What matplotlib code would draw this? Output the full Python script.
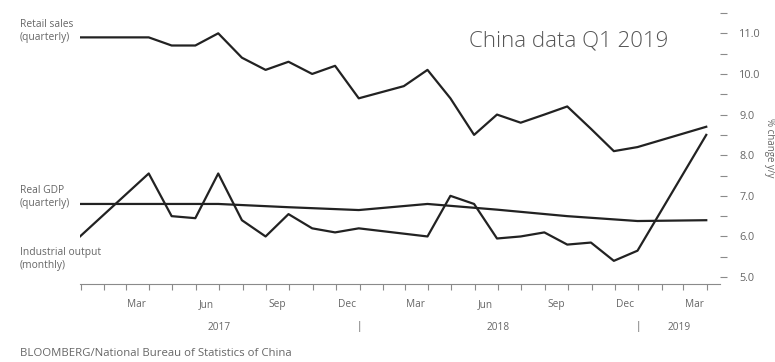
import matplotlib
matplotlib.use("Agg")
import matplotlib.pyplot as plt
import matplotlib.dates as mdates
import matplotlib.transforms as mtransforms
import pandas as pd

# retail sales, % y/y (points at month end)
retail_dates = ["2016-12-31", "2017-03-31", "2017-04-30", "2017-05-31", "2017-06-30",
                "2017-07-31", "2017-08-31", "2017-09-30", "2017-10-31", "2017-11-30",
                "2017-12-31", "2018-02-28", "2018-03-31", "2018-04-30", "2018-05-31",
                "2018-06-30", "2018-07-31", "2018-08-31", "2018-09-30", "2018-10-31",
                "2018-11-30", "2018-12-31", "2019-03-31"]
retail_vals = [10.9, 10.9, 10.7, 10.7, 11.0, 10.4, 10.1, 10.3, 10.0, 10.2, 9.4,
               9.7, 10.1, 9.4, 8.5, 9.0, 8.8, 9.0, 9.2, 8.65, 8.1, 8.2, 8.7]

# industrial output, % y/y
ip_dates = ["2016-12-31", "2017-03-31", "2017-04-30", "2017-05-31", "2017-06-30",
            "2017-07-31", "2017-08-31", "2017-09-30", "2017-10-31", "2017-11-30",
            "2017-12-31", "2018-03-31", "2018-04-30", "2018-05-31", "2018-06-30",
            "2018-07-31", "2018-08-31", "2018-09-30", "2018-10-31", "2018-11-30",
            "2018-12-31", "2019-03-31"]
ip_vals = [6.0, 7.55, 6.5, 6.45, 7.55, 6.4, 6.0, 6.55, 6.2, 6.1, 6.2,
           6.0, 7.0, 6.8, 5.95, 6.0, 6.1, 5.8, 5.85, 5.4, 5.65, 8.5]

# real GDP, % y/y (quarter end)
gdp_dates = ["2016-12-31", "2017-03-31", "2017-06-30", "2017-09-30", "2017-12-31",
             "2018-03-31", "2018-06-30", "2018-09-30", "2018-12-31", "2019-03-31"]
gdp_vals = [6.8, 6.8, 6.8, 6.72, 6.65, 6.8, 6.66, 6.5, 6.38, 6.4]

month_labels = ["Mar", "Jun", "Sep", "Dec", "Mar", "Jun", "Sep", "Dec", "Mar"]
month_label_dates = ["2017-03-15", "2017-06-15", "2017-09-15", "2017-12-15",
                     "2018-03-15", "2018-06-15", "2018-09-15", "2018-12-15",
                     "2019-03-15"]
years = ["2017", "2018", "2019"]
year_label_dates = ["2017-07-01", "2018-07-01", "2019-02-24"]
year_breaks = ["2018-01-01", "2019-01-01"]

grey = "#8a8a8a"
txt = "#666666"
plt.rcParams['font.family'] = ['Open Sans', 'DejaVu Sans']

fig = plt.figure(figsize=(7.75, 3.62), dpi=100)
ax = fig.add_axes([80 / 775, 1 - 284 / 362, 640 / 775, 271 / 362])

ax.plot(pd.to_datetime(retail_dates), retail_vals, color="#222222", linewidth=1.6)
ax.plot(pd.to_datetime(gdp_dates), gdp_vals, color="#222222", linewidth=1.6)
ax.plot(pd.to_datetime(ip_dates), ip_vals, color="#222222", linewidth=1.6)

ax.set_xlim(pd.Timestamp("2016-12-31"), pd.Timestamp("2019-04-18"))
ax.set_ylim(4.83, 11.5)

for s in ["top", "left", "right"]:
    ax.spines[s].set_visible(False)
ax.spines["bottom"].set_color(grey)
ax.spines["bottom"].set_linewidth(0.8)

# x: month ticks without labels, labels at mid-month
ax.xaxis.set_major_locator(mdates.MonthLocator())
ax.xaxis.set_major_formatter(plt.NullFormatter())
ax.tick_params(axis="x", which="major", direction="out", length=4, color=grey, width=0.8)
ax.set_xticks(pd.to_datetime(month_label_dates), month_labels, minor=True)
ax.tick_params(axis="x", which="minor", length=0, pad=11, labelsize=7.3, labelcolor=txt)

trans = mtransforms.blended_transform_factory(ax.transData, fig.transFigure)
for d, y in zip(year_label_dates, years):
    ax.text(pd.Timestamp(d), 1 - 327 / 362, y, transform=trans, ha="center",
            va="center", fontsize=7.3, color=txt)
for d in year_breaks:
    ax.text(pd.Timestamp(d), 1 - 327 / 362, "|", transform=trans, ha="center",
            va="center", fontsize=7.3, color=txt)

# y on the right
ax.yaxis.tick_right()
ax.set_yticks([5, 6, 7, 8, 9, 10, 11])
ax.set_yticklabels(["5.0", "6.0", "7.0", "8.0", "9.0", "10.0", "11.0"])
ax.set_yticks([5.5, 6.5, 7.5, 8.5, 9.5, 10.5, 11.5], minor=True)
ax.tick_params(axis="y", which="both", direction="out", length=5, color=grey,
               width=0.8, pad=9, labelsize=7.8, labelcolor=txt)
fig.text(770 / 775, 1 - 148 / 362, "% change y/y", rotation=270, ha="center",
         va="center", fontsize=7, color=txt)

fig.text(569 / 775, 1 - 41 / 362, "China data Q1 2019", ha="center",
         va="center", fontsize=16, color="#555555", fontweight="light")

fig.text(20 / 775, 1 - 31 / 362, "Retail sales\n(quarterly)", ha="left", va="center",
         fontsize=7.4, color=txt, linespacing=1.15)
fig.text(20 / 775, 1 - 197 / 362, "Real GDP\n(quarterly)", ha="left", va="center",
         fontsize=7.4, color=txt, linespacing=1.15)
fig.text(20 / 775, 1 - 259 / 362, "Industrial output\n(monthly)", ha="left", va="center",
         fontsize=7.4, color=txt, linespacing=1.15)
fig.text(20 / 775, 1 - 353 / 362, "BLOOMBERG/National Bureau of Statistics of China",
         ha="left", va="center", fontsize=8.2, color=txt)

fig.savefig("out.png", dpi=100)
